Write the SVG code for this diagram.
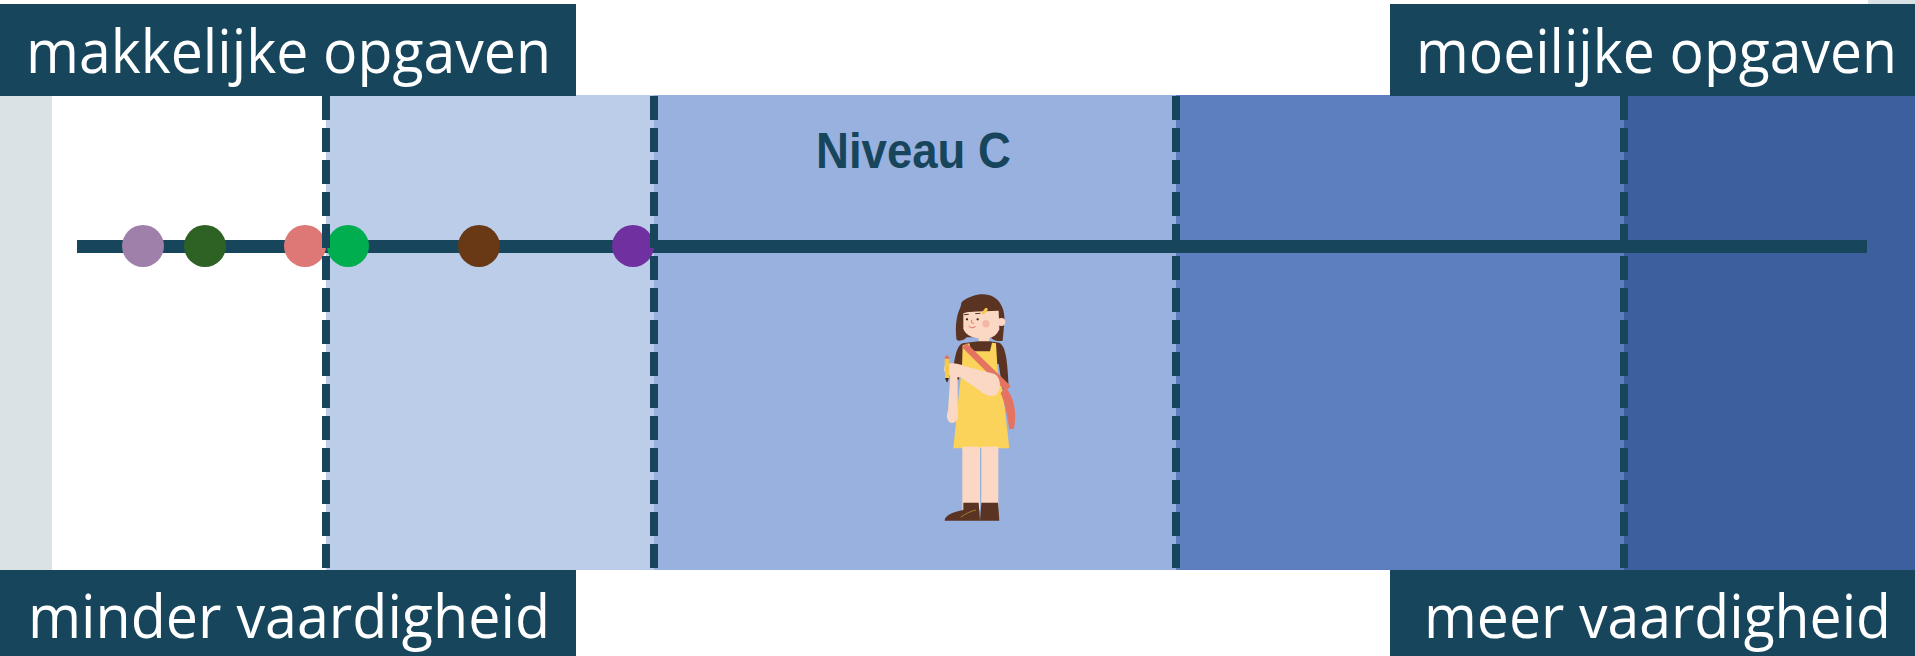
<svg xmlns="http://www.w3.org/2000/svg" width="1915" height="656" viewBox="0 0 1915 656">
  <style>
    .box { fill: #17465c; }
    .label { fill: #ffffff; font-family: "Open Sans", "Noto Sans", sans-serif; font-size: 60px; font-weight: 370; }
    .title { fill: #17465c; font-family: "Liberation Sans", Arial, sans-serif; font-size: 50px; font-weight: bold; }
    .divider { stroke: #17465c; stroke-width: 8; stroke-dasharray: 24 8; fill: none; }
    .axis { stroke: #17465c; stroke-width: 13; fill: none; }
    .skin { fill: #fad8c3; }
    .brown { fill: #5b3322; }
  </style>

  <!-- background bands -->
  <g id="bands">
    <rect x="1868" y="0" width="47" height="4" fill="#dae2e6"/>
    <rect x="0" y="95" width="52" height="475" fill="#dae2e6"/>
    <rect x="52" y="95" width="274" height="475" fill="#ffffff"/>
    <rect x="326" y="95" width="328" height="475" fill="#bbcde9"/>
    <rect x="654" y="95" width="522" height="475" fill="#99b1de"/>
    <rect x="1176" y="95" width="448" height="475" fill="#5d7fbf"/>
    <rect x="1624" y="95" width="291" height="475" fill="#3c5f9d"/>
  </g>

  <!-- axis line -->
  <g id="connectors">
    <line class="axis" x1="77" y1="246.5" x2="1867" y2="246.5"/>
  </g>

  <!-- task markers on the axis -->
  <g id="markers">
    <circle id="m1" cx="143" cy="246" r="21" fill="#9e80aa"/>
    <circle id="m2" cx="205" cy="246" r="21" fill="#2d6224"/>
    <circle id="m3" cx="305" cy="246" r="21" fill="#de7876"/>
    <circle id="m4" cx="348" cy="246" r="21" fill="#00ae4f"/>
    <circle id="m5" cx="479" cy="246" r="21" fill="#693916"/>
    <circle id="m6" cx="633" cy="246" r="21" fill="#7030a0"/>
  </g>

  <!-- level boundaries -->
  <g id="dividers">
    <line class="divider" x1="326" y1="96" x2="326" y2="570"/>
    <line class="divider" x1="654" y1="96" x2="654" y2="570"/>
    <line class="divider" x1="1176" y1="96" x2="1176" y2="570"/>
    <line class="divider" x1="1624" y1="96" x2="1624" y2="570"/>
  </g>

  <g id="level-title">
    <text class="title" x="816" y="168" textLength="195" lengthAdjust="spacingAndGlyphs">Niveau C</text>
  </g>

  <!-- corner labels -->
  <g id="label-easy">
    <rect class="box" x="0" y="4" width="576" height="92"/>
    <text class="label" x="26" y="72.5" textLength="525" lengthAdjust="spacingAndGlyphs">makkelijke opgaven</text>
  </g>
  <g id="label-hard">
    <rect class="box" x="1390" y="4" width="525" height="92"/>
    <text class="label" x="0" y="0" transform="translate(1416 72.5) scale(1 1.0714)" style="font-size:56px" textLength="481" lengthAdjust="spacingAndGlyphs">moeilijke opgaven</text>
  </g>
  <g id="label-less">
    <rect class="box" x="0" y="570" width="576" height="86"/>
    <text class="label" x="28" y="638" textLength="522" lengthAdjust="spacingAndGlyphs">minder vaardigheid</text>
  </g>
  <g id="label-more">
    <rect class="box" x="1390" y="570" width="525" height="86"/>
    <text class="label" x="1424" y="638" textLength="467" lengthAdjust="spacingAndGlyphs">meer vaardigheid</text>
  </g>

  <!-- student figure -->
  <g id="student" transform="translate(930 280) scale(0.3333)">
    <!-- hair back -->
    <path class="brown" d="M80 180 C72 120 84 50 150 43 C208 38 230 88 222 138 L218 182 C200 186 188 180 182 172 L110 172 C102 182 88 184 80 180 Z"/>
    <!-- neck -->
    <rect class="skin" x="146" y="160" width="32" height="40"/>
    <!-- face -->
    <path class="skin" d="M100 96 L206 92 L208 148 C200 168 184 176 160 176 C130 176 106 166 100 146 Z"/>
    <circle class="skin" cx="214" cy="126" r="12"/>
    <!-- bangs -->
    <path class="brown" d="M88 106 C104 92 150 94 204 84 L206 70 C190 44 118 38 94 68 Z"/>
    <!-- hair clip -->
    <rect x="160" y="82" width="9" height="22" rx="4" fill="#f6c94a" transform="rotate(40 164 93)"/>
    <!-- face details -->
    <path d="M103 104 L115 103 M137 101 L150 100" stroke="#5b3322" stroke-width="3" stroke-linecap="round"/>
    <circle cx="111" cy="118" r="3.5" fill="#3a2418"/>
    <circle cx="143" cy="118" r="3.5" fill="#3a2418"/>
    <path d="M126 120 C122 126 124 130 130 130" stroke="#e0645a" stroke-width="3" fill="none" stroke-linecap="round"/>
    <path d="M117 139 C123 145 131 145 136 139" stroke="#e0645a" stroke-width="3" fill="none" stroke-linecap="round"/>
    <circle cx="168" cy="131" r="11" fill="#f3b7a6"/>
    <!-- shirt -->
    <path class="brown" d="M98 190 C80 196 72 236 68 290 L86 300 L98 250 L206 252 L218 330 L236 320 C232 240 228 200 208 188 L178 184 L146 184 Z"/>
    <!-- dress -->
    <path d="M98 196 L118 190 L124 214 L180 214 L186 188 L198 190 L204 290 L218 330 L238 505 L70 505 L88 330 L96 262 Z" fill="#fbd35b"/>
    <!-- left arm hanging -->
    <path class="skin" d="M62 268 L82 270 L84 398 C86 424 72 434 58 426 C48 416 50 402 54 394 Z"/>
    <!-- bag strap and bag -->
    <path d="M96 202 L110 190 L242 318 L228 334 Z" fill="#e57362"/>
    <path d="M224 322 C252 344 262 402 252 446 L238 448 C234 420 226 370 212 340 Z" fill="#e57362"/>
    <!-- bent arm -->
    <path class="skin" d="M44 256 C60 246 82 250 102 258 L194 282 C214 294 216 332 196 346 C176 352 160 342 150 332 L92 292 C70 292 50 286 42 272 Z"/>
    <!-- pencil -->
    <path d="M44 236 L58 236 L57 294 L45 294 Z" fill="#f6c94a"/>
    <path d="M44 236 C44 222 58 222 58 236 Z" fill="#e57362"/>
    <path d="M45 294 L57 294 L51 308 Z" fill="#3a2418"/>
    <!-- legs -->
    <rect class="skin" x="97" y="500" width="53" height="190"/>
    <rect class="skin" x="154" y="500" width="51" height="190"/>
    <!-- shoes -->
    <path class="brown" d="M100 668 L146 668 L150 722 L44 722 C44 706 70 696 100 690 Z"/>
    <path class="brown" d="M154 668 L204 668 L208 722 L150 722 Z"/>
    <path d="M92 712 C108 700 122 694 138 690" stroke="#c9a23b" stroke-width="2" fill="none"/>
  </g>
</svg>
